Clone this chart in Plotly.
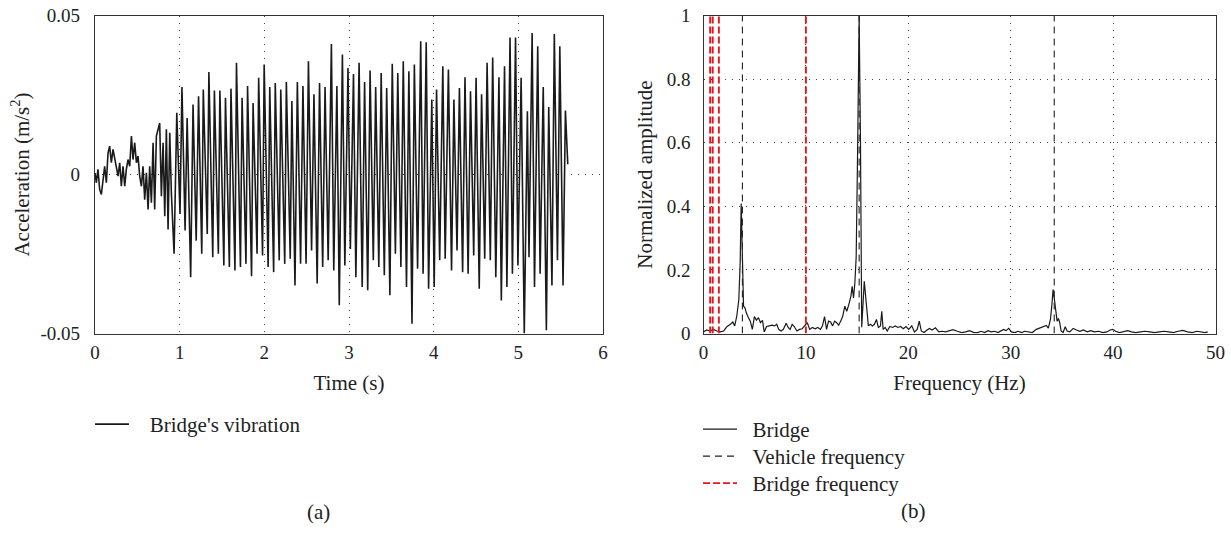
import plotly.graph_objects as go

# ---------------- data: (a) bridge vibration ----------------
early_t = [0.000, 0.016, 0.035, 0.055, 0.075, 0.095, 0.114, 0.134, 0.154, 0.173, 0.193, 0.213,
           0.232, 0.252, 0.272, 0.292, 0.311, 0.331, 0.351, 0.370, 0.390, 0.410, 0.430, 0.449,
           0.469, 0.489, 0.508, 0.528, 0.548, 0.567, 0.587, 0.607, 0.627, 0.646, 0.666, 0.686,
           0.705, 0.725, 0.745, 0.764, 0.784, 0.804, 0.824, 0.843, 0.863, 0.883, 0.902]
early_a = [0.0005, -0.0026, 0.0016, -0.0047, -0.0063, -0.0016, 0.0026, -0.0026, 0.0068, 0.0089,
           0.0037, 0.0079, 0.0052, 0.0016, -0.0005, 0.0037, -0.0037, 0.0026, -0.0037, 0.0016,
           0.0047, 0.0026, 0.0121, 0.0047, 0.0100, 0.0037, 0.0058, -0.0005, -0.0037, 0.0026,
           -0.0079, 0.0005, -0.0110, 0.0026, -0.0089, 0.0100, -0.0110, 0.0121, 0.0142, 0.0162,
           -0.0068, 0.0100, -0.0131, 0.0142, -0.0173, 0.0131, -0.0058]

trough_t = [0.934, 1.004, 1.064, 1.130, 1.195, 1.261, 1.326, 1.391, 1.457, 1.522, 1.587, 1.653,
            1.718, 1.783, 1.849, 1.914, 1.979, 2.045, 2.110, 2.176, 2.241, 2.306, 2.362, 2.428,
            2.493, 2.558, 2.624, 2.689, 2.754, 2.820, 2.885, 2.951, 3.016, 3.081, 3.156, 3.221,
            3.287, 3.352, 3.417, 3.483, 3.548, 3.613, 3.679, 3.744, 3.810, 3.875, 3.940, 4.006,
            4.071, 4.136, 4.211, 4.276, 4.342, 4.407, 4.473, 4.538, 4.603, 4.669, 4.734, 4.799,
            4.865, 4.930, 4.995, 5.070, 5.126, 5.191, 5.257, 5.331, 5.397, 5.462, 5.528]
trough_a = [-0.0249, -0.0124, -0.0176, -0.0323, -0.0208, -0.0249, -0.0187, -0.0260, -0.0249,
            -0.0286, -0.0291, -0.0302, -0.0291, -0.0281, -0.0320, -0.0249, -0.0255, -0.0291,
            -0.0307, -0.0270, -0.0281, -0.0265, -0.0349, -0.0281, -0.0281, -0.0239, -0.0343,
            -0.0291, -0.0270, -0.0302, -0.0411, -0.0286, -0.0234, -0.0323, -0.0354, -0.0364,
            -0.0270, -0.0291, -0.0317, -0.0380, -0.0249, -0.0291, -0.0354, -0.0469, -0.0296,
            -0.0312, -0.0359, -0.0354, -0.0270, -0.0265, -0.0302, -0.0239, -0.0307, -0.0312,
            -0.0255, -0.0359, -0.0265, -0.0270, -0.0323, -0.0396, -0.0354, -0.0312, -0.0286,
            -0.0500, -0.0260, -0.0354, -0.0312, -0.0490, -0.0349, -0.0270, -0.0349]

peak_t = [0.966, 1.027, 1.088, 1.158, 1.223, 1.279, 1.345, 1.410, 1.475, 1.541, 1.606, 1.671,
          1.737, 1.802, 1.867, 1.933, 1.998, 2.064, 2.129, 2.194, 2.260, 2.325, 2.390, 2.456,
          2.521, 2.586, 2.652, 2.717, 2.792, 2.857, 2.922, 2.988, 3.053, 3.119, 3.184, 3.249,
          3.315, 3.380, 3.445, 3.511, 3.576, 3.641, 3.707, 3.772, 3.847, 3.912, 3.978, 4.034,
          4.108, 4.174, 4.239, 4.304, 4.370, 4.435, 4.501, 4.566, 4.631, 4.697, 4.771, 4.837,
          4.902, 4.967, 5.033, 5.107, 5.163, 5.229, 5.294, 5.359, 5.425, 5.490, 5.556]
peak_a = [0.0194, 0.0275, 0.0178, 0.0220, 0.0246, 0.0267, 0.0322, 0.0264, 0.0264, 0.0241,
          0.0270, 0.0351, 0.0241, 0.0278, 0.0225, 0.0304, 0.0346, 0.0275, 0.0288, 0.0267,
          0.0291, 0.0231, 0.0291, 0.0278, 0.0356, 0.0252, 0.0288, 0.0275, 0.0410, 0.0278,
          0.0377, 0.0335, 0.0316, 0.0351, 0.0291, 0.0327, 0.0275, 0.0319, 0.0272, 0.0348,
          0.0319, 0.0356, 0.0325, 0.0346, 0.0419, 0.0416, 0.0236, 0.0267, 0.0340, 0.0330,
          0.0236, 0.0272, 0.0306, 0.0262, 0.0304, 0.0252, 0.0351, 0.0368, 0.0306, 0.0340,
          0.0431, 0.0431, 0.0304, 0.0199, 0.0445, 0.0403, 0.0275, 0.0212, 0.0442, 0.0403,
          0.0201]

end_t = [5.584]
end_a = [0.0032]

# ---------------- data: (b) normalized spectrum ----------------
freq = [0.00, 0.31, 0.64, 0.97, 1.31, 1.64, 1.97, 2.30, 2.63, 2.86, 3.05, 3.25, 3.45, 3.58,
        3.68, 3.81, 3.91, 4.05, 4.18, 4.38, 4.57, 4.77, 4.97, 5.17, 5.37, 5.56, 5.76, 5.93,
        6.16, 6.42, 6.69, 6.95, 7.15, 7.34, 7.57, 7.80, 8.07, 8.27, 8.46, 8.66, 8.86, 9.12,
        9.38, 9.64, 9.91, 10.14, 10.37, 10.63, 10.90, 11.16, 11.42, 11.62, 11.82, 12.02,
        12.21, 12.41, 12.61, 12.81, 13.00, 13.20, 13.40, 13.60, 13.80, 13.99, 14.19, 14.39,
        14.52, 14.65, 14.78, 14.91, 15.04, 15.20, 15.33, 15.45, 15.70, 15.90, 16.10, 16.30,
        16.50, 16.69, 16.89, 17.08, 17.28, 17.41, 17.54, 17.74, 17.94, 18.20, 18.46, 18.73,
        18.99, 19.25, 19.51, 19.78, 20.04, 20.34, 20.60, 20.87, 21.07, 21.27, 21.53, 21.83,
        22.06, 22.32, 22.65, 22.98, 23.31, 23.64, 23.97, 24.36, 24.79, 25.21, 25.61, 26.00,
        26.40, 26.79, 27.12, 27.45, 27.78, 28.10, 28.43, 28.76, 29.09, 29.29, 29.55, 29.81,
        30.07, 30.40, 30.73, 31.06, 31.38, 31.71, 32.11, 32.50, 32.90, 33.22, 33.48, 33.68,
        33.88, 34.01, 34.14, 34.27, 34.40, 34.53, 34.66, 34.79, 34.92, 35.12, 35.32, 35.51,
        35.78, 36.10, 36.43, 36.76, 37.09, 37.48, 37.81, 38.20, 38.60, 38.99, 39.38, 39.71,
        39.97, 40.24, 40.63, 41.03, 41.42, 41.81, 42.21, 42.67, 43.13, 43.59, 44.05, 44.51,
        44.97, 45.43, 45.89, 46.35, 46.81, 47.27, 47.73, 48.19, 48.58, 48.98, 49.24]
amp = [0.005, 0.011, 0.008, 0.013, 0.008, 0.005, 0.008, 0.022, 0.029, 0.036, 0.024, 0.055,
       0.107, 0.221, 0.409, 0.241, 0.086, 0.081, 0.065, 0.050, 0.039, 0.013, 0.053, 0.042,
       0.050, 0.034, 0.041, 0.005, 0.022, 0.024, 0.026, 0.024, 0.029, 0.013, 0.008, 0.013,
       0.032, 0.019, 0.013, 0.029, 0.022, 0.008, 0.013, 0.015, 0.026, 0.034, 0.013, 0.019,
       0.015, 0.019, 0.013, 0.024, 0.053, 0.013, 0.039, 0.036, 0.024, 0.039, 0.034, 0.026,
       0.039, 0.055, 0.086, 0.070, 0.091, 0.117, 0.148, 0.112, 0.158, 0.241, 0.550, 1.000,
       0.600, 0.020, 0.164, 0.097, 0.024, 0.029, 0.024, 0.029, 0.044, 0.019, 0.024, 0.070,
       0.013, 0.019, 0.008, 0.022, 0.019, 0.024, 0.019, 0.022, 0.015, 0.022, 0.013, 0.024,
       0.005, 0.013, 0.039, 0.008, 0.003, 0.011, 0.016, 0.011, 0.018, 0.005, 0.007, 0.005,
       0.009, 0.012, 0.007, 0.003, 0.005, 0.009, 0.003, 0.003, 0.007, 0.003, 0.009, 0.005,
       0.007, 0.003, 0.009, 0.013, 0.009, 0.016, 0.005, 0.003, 0.007, 0.003, 0.007, 0.005,
       0.003, 0.013, 0.017, 0.021, 0.025, 0.017, 0.044, 0.086, 0.138, 0.107, 0.065, 0.039,
       0.047, 0.034, 0.008, 0.003, 0.021, 0.008, 0.005, 0.016, 0.011, 0.007, 0.011, 0.005,
       0.009, 0.005, 0.007, 0.003, 0.005, 0.011, 0.013, 0.007, 0.003, 0.005, 0.009, 0.005,
       0.003, 0.005, 0.007, 0.005, 0.003, 0.005, 0.007, 0.005, 0.003, 0.007, 0.010, 0.005,
       0.003, 0.007, 0.005, 0.003, 0.005]

vehicle_freqs = [3.8, 15.2, 34.25]
bridge_freqs = [0.65, 0.9, 1.5, 10.0]

x_ticks_a = [0, 1, 2, 3, 4, 5, 6]
y_ticks_a = [-0.05, 0, 0.05]
y_ticklabels_a = ["-0.05", "0", "0.05"]
x_ticks_b = [0, 10, 20, 30, 40, 50]
y_ticks_b = [0, 0.2, 0.4, 0.6, 0.8, 1]

# merge time series: early part, then alternating trough / peak
sig_t = list(early_t)
sig_a = list(early_a)
for tt, ta, pt, pa in zip(trough_t, trough_a, peak_t, peak_a):
    sig_t += [tt, pt]
    sig_a += [ta, pa]
sig_t += end_t
sig_a += end_a


def vlines(xs, y0, y1):
    vx, vy = [], []
    for v in xs:
        vx += [v, v, None]
        vy += [y0, y1, None]
    return vx, vy


FONT = "Liberation Serif, Times New Roman, serif"
W, H = 1231, 542
TICK = dict(family=FONT, size=19, color="#222222")
LAB = dict(family=FONT, size=21, color="#222222")
SP3 = "\u00a0\u00a0\u00a0"
SP2 = "\u00a0\u00a0"

fig = go.Figure()

fig.add_trace(go.Scatter(x=sig_t, y=sig_a, mode="lines", name=SP3 + "Bridge's vibration",
                         line=dict(color="#1a1a1a", width=1.6), xaxis="x", yaxis="y",
                         legend="legend", showlegend=True))

fig.add_trace(go.Scatter(x=freq, y=amp, mode="lines", name=SP2 + "Bridge",
                         line=dict(color="#1a1a1a", width=1.2), xaxis="x2", yaxis="y2",
                         legend="legend2"))
vx, vy = vlines(vehicle_freqs, y_ticks_b[0], y_ticks_b[-1])
fig.add_trace(go.Scatter(x=vx, y=vy, mode="lines", name=SP2 + "Vehicle frequency",
                         line=dict(color="#222222", width=1.1, dash="7px,5px"),
                         xaxis="x2", yaxis="y2", legend="legend3"))
bx, by = vlines(bridge_freqs, y_ticks_b[0], y_ticks_b[-1])
fig.add_trace(go.Scatter(x=bx, y=by, mode="lines", name=SP2 + "Bridge frequency",
                         line=dict(color="#e8141c", width=1.9, dash="7px,3px"),
                         xaxis="x2", yaxis="y2", legend="legend4"))

ydom = [1 - 333.5 / H, 1 - 15.5 / H]

axis_common = dict(showline=True, linecolor="#333333", linewidth=1.2, mirror=True,
                   showgrid=True, gridcolor="#444444", gridwidth=1, griddash="1px,6px",
                   zeroline=False, ticks="", automargin=False,
                   tickfont=TICK, title_font=LAB)


def leg(x, ytop):
    return dict(x=x / W, y=1 - ytop / H, xanchor="left", yanchor="top", itemwidth=34,
                bgcolor="rgba(0,0,0,0)", font=LAB)


fig.update_layout(
    width=W, height=H,
    margin=dict(l=0, r=0, t=0, b=0),
    paper_bgcolor="white", plot_bgcolor="white",
    font=dict(family=FONT, size=19, color="#222222"),
    xaxis=dict(domain=[95 / W, 603 / W], range=[0, 6], tickvals=x_ticks_a,
               title=dict(text="Time (s)", standoff=12), ticklabelstandoff=2, **axis_common),
    yaxis=dict(domain=ydom, range=[-0.05, 0.05], tickvals=y_ticks_a, ticktext=y_ticklabels_a,
               title=dict(text="Acceleration (m/s<sup>2</sup>)", standoff=5),
               ticklabelstandoff=10, anchor="x", **axis_common),
    xaxis2=dict(domain=[703.5 / W, 1215.5 / W], range=[0, 50], tickvals=x_ticks_b,
                title=dict(text="Frequency (Hz)", standoff=12), ticklabelstandoff=2,
                anchor="y2", **axis_common),
    yaxis2=dict(domain=ydom, range=[0, 1], tickvals=y_ticks_b,
                title=dict(text="Normalized amplitude", standoff=8), ticklabelstandoff=8,
                anchor="x2", **axis_common),
    legend=leg(90, 404),
    legend2=leg(698, 409),
    legend3=leg(698, 436),
    legend4=leg(698, 463),
    annotations=[
        dict(text="(a)", x=305 / W, y=1 - 526 / H, xref="paper", yref="paper",
             showarrow=False, font=LAB),
        dict(text="(b)", x=928 / W, y=1 - 525 / H, xref="paper", yref="paper",
             showarrow=False, font=LAB),
    ],
)

fig.write_html("out.html", config={"displayModeBar": False},
               post_script="document.body.style.margin='0';document.body.style.padding='0';")
